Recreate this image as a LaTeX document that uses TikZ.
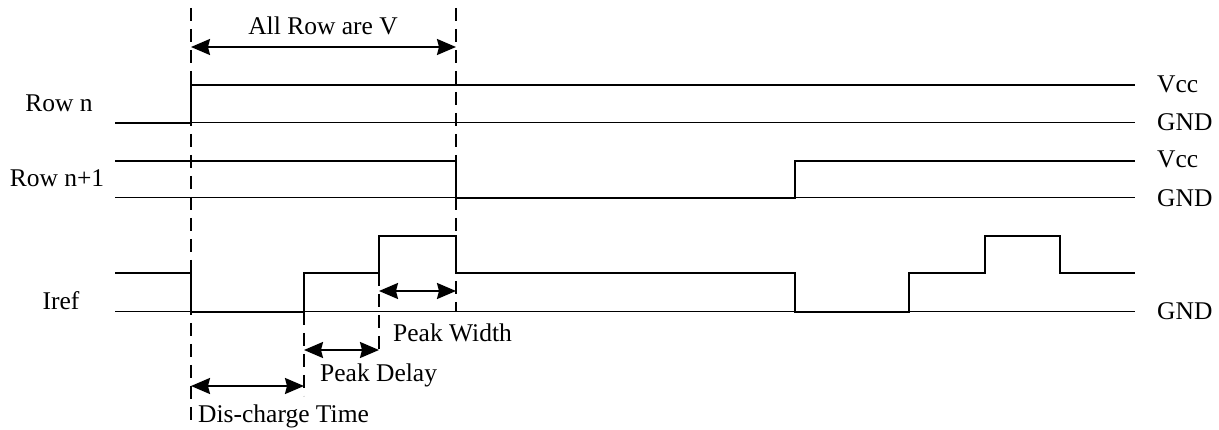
\documentclass[tikz,border=0pt]{standalone}
\usepackage{fontspec}
\setmainfont{Liberation Serif}
\usetikzlibrary{arrows.meta}
\begin{document}
\begin{tikzpicture}[x=1pt,y=-1pt,
  sig/.style={line width=2.4pt,line join=miter},
  gnd/.style={line width=1.0pt},
  guide/.style={line width=1.7pt,dash pattern=on 13pt off 8pt},
  dim/.style={line width=2pt,{Stealth[length=19pt,width=16pt,inset=2pt]}-{Stealth[length=19pt,width=16pt,inset=2pt]}},
  lbl/.style={inner sep=0pt,font=\fontsize{25.5}{28}\selectfont}]
\useasboundingbox (0,0) rectangle (1219,430);
% guide lines
\coordinate (g1t) at (191,8);   \coordinate (g1b) at (191,426);
\coordinate (g2t) at (456,8);   \coordinate (g2b) at (456,312);
\coordinate (g3t) at (304,312); \coordinate (g3b) at (304,396);
\coordinate (g4t) at (379,273); \coordinate (g4b) at (379,352);
\draw[guide] (g1t) -- (g1b);
\draw[guide] (g2t) -- (g2b);
\draw[guide] (g3t) -- (g3b);
\draw[guide] (g4t) -- (g4b);
% GND reference lines
\draw[gnd] (115,123) -- (1135,123);
\draw[gnd] (115,198) -- (1135,198);
\draw[gnd] (115,312) -- (1135,312);
% Row n
\draw[sig] (115,123) -- (191,123) -- (191,85) -- (1135,85);
% Row n+1
\draw[sig] (115,161) -- (456,161) -- (456,198) -- (795,198) -- (795,161) -- (1135,161);
% Iref
\draw[sig] (115,273) -- (191,273) -- (191,312) -- (304,312) -- (304,273) -- (379,273)
  -- (379,236) -- (456,236) -- (456,273) -- (795,273) -- (795,312) -- (909,312)
  -- (909,273) -- (985,273) -- (985,236) -- (1060,236) -- (1060,273) -- (1135,273);
% dimension arrows
\coordinate (a1) at (191,47);  \coordinate (a2) at (456,47);
\coordinate (w1) at (379,291); \coordinate (w2) at (456,291);
\coordinate (d1) at (304,350); \coordinate (d2) at (379,350);
\coordinate (c1) at (191,386); \coordinate (c2) at (304,386);
\draw[dim] (a1) -- (a2);
\draw[dim] (w1) -- (w2);
\draw[dim] (d1) -- (d2);
\draw[dim] (c1) -- (c2);
% labels
\node[lbl,anchor=base] (tall) at (323,35) {All Row are V};
\node[lbl,anchor=base] (trn) at (59,112) {Row n};
\node[lbl,anchor=base] (trn1) at (57,187) {Row n+1};
\node[lbl,anchor=base] (tiref) at (61,310) {Iref};
\node[lbl,anchor=base west] (tpw) at (393,342) {Peak Width};
\node[lbl,anchor=base west] (tpd) at (320,382) {Peak Delay};
\node[lbl,anchor=base west] (tdc) at (198,422) {Dis-charge Time};
\node[lbl,anchor=base west] (v1) at (1157,93) {Vcc};
\node[lbl,anchor=base west] (gd1) at (1157,131) {GND};
\node[lbl,anchor=base west] (v2) at (1157,168) {Vcc};
\node[lbl,anchor=base west] (gd2) at (1157,207) {GND};
\node[lbl,anchor=base west] (gd3) at (1157,320) {GND};
\end{tikzpicture}
\end{document}
